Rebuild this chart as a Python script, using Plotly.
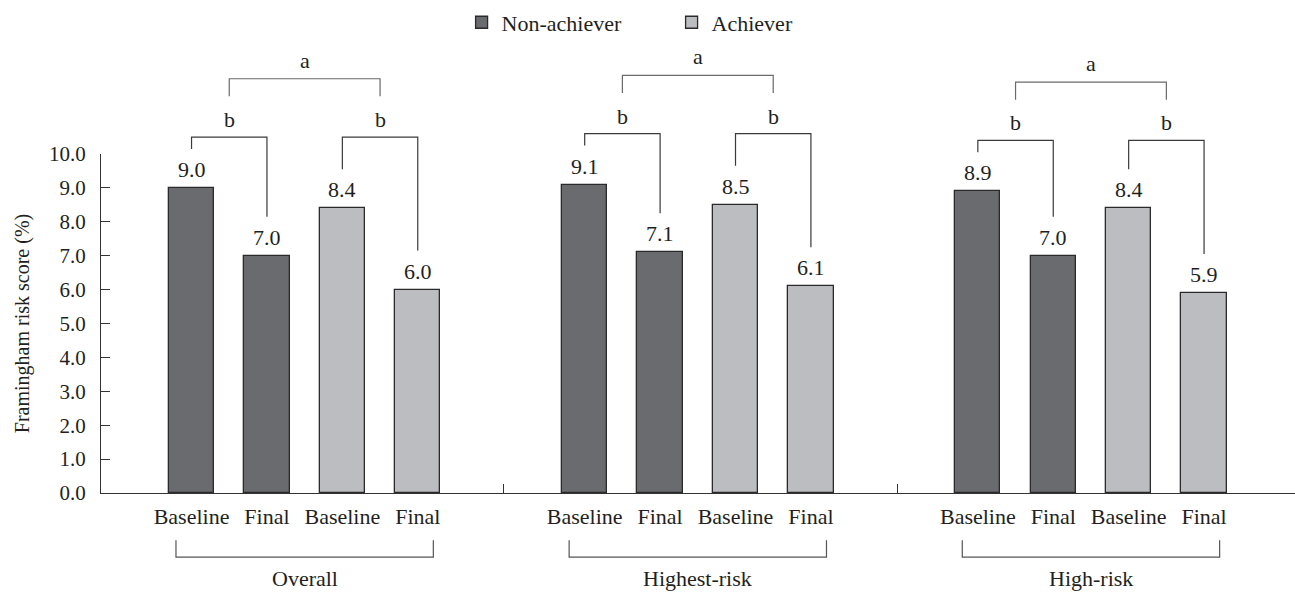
import plotly.graph_objects as go

# Framingham risk score (%) by group, time point and goal achievement
groups = ["Overall", "Highest-risk", "High-risk"]
timepoints = ["Baseline", "Final"]
non_achiever_baseline = [9.0, 9.1, 8.9]
non_achiever_final = [7.0, 7.1, 7.0]
achiever_baseline = [8.4, 8.5, 8.4]
achiever_final = [6.0, 6.1, 5.9]
series_names = ["Non-achiever", "Achiever"]
within_letter = "b"   # baseline vs final within each achievement group
between_letter = "a"  # change in non-achievers vs change in achievers
y_ticks = [0, 1, 2, 3, 4, 5, 6, 7, 8, 9, 10]

FONT = "Liberation Serif"
INK = "#231f20"
DARK = "#6a6b6f"
LIGHT = "#bcbdc1"
Y_MAX = 10.0

# bar layout inside each group (x unit = one group)
STEP = 0.1918
BAR_W = 0.1152
offsets = [-1.5 * STEP, -0.5 * STEP, 0.5 * STEP, 1.5 * STEP]


def py(v):
    """data value -> paper fraction on the y axis (range 0..Y_MAX)"""
    return v / Y_MAX


fig = go.Figure()

na_x, na_y, a_x, a_y = [], [], [], []
for g in range(len(groups)):
    na_x += [g + offsets[0], g + offsets[1]]
    na_y += [non_achiever_baseline[g], non_achiever_final[g]]
    a_x += [g + offsets[2], g + offsets[3]]
    a_y += [achiever_baseline[g], achiever_final[g]]

fig.add_trace(go.Bar(name=series_names[0], x=na_x, y=na_y, width=BAR_W,
                     marker=dict(color=DARK, line=dict(color="#2a2a2a", width=1.3))))
fig.add_trace(go.Bar(name=series_names[1], x=a_x, y=a_y, width=BAR_W,
                     marker=dict(color=LIGHT, line=dict(color="#2a2a2a", width=1.3))))

shapes = []
annotations = []
tick_x, tick_text = [], []

for g in range(len(groups)):
    vals = [non_achiever_baseline[g], non_achiever_final[g],
            achiever_baseline[g], achiever_final[g]]
    xs = [g + o for o in offsets]
    tick_x += xs
    tick_text += timepoints * 2

    # value labels above bars
    for x, v in zip(xs, vals):
        annotations.append(dict(x=x, y=py(v), xref="x", yref="paper", text=f"{v:.1f}",
                                showarrow=False, yanchor="bottom", yshift=4,
                                font=dict(family=FONT, size=22, color=INK)))

    # within-group brackets (baseline vs final)
    b_level = max(vals) + 1.5
    mids = []
    for i, j in [(0, 1), (2, 3)]:
        path = (f"M {xs[i]},{py(vals[i] + 1.15)} L {xs[i]},{py(b_level)} "
                f"L {xs[j]},{py(b_level)} L {xs[j]},{py(vals[j] + 1.15)}")
        shapes.append(dict(type="path", path=path, xref="x", yref="paper",
                           line=dict(color="#3a3a3a", width=1.2)))
        m = (xs[i] + xs[j]) / 2
        mids.append(m)
        annotations.append(dict(x=m, y=py(b_level), xref="x", yref="paper",
                                text=within_letter, showarrow=False, yanchor="bottom",
                                yshift=3, font=dict(family=FONT, size=22, color=INK)))

    # between-group bracket
    a_low = b_level + 1.2
    a_high = b_level + 1.72
    path = (f"M {mids[0]},{py(a_low)} L {mids[0]},{py(a_high)} "
            f"L {mids[1]},{py(a_high)} L {mids[1]},{py(a_low)}")
    shapes.append(dict(type="path", path=path, xref="x", yref="paper",
                       line=dict(color="#6a6a6a", width=1.2)))
    annotations.append(dict(x=(mids[0] + mids[1]) / 2, y=py(a_high), xref="x", yref="paper",
                            text=between_letter, showarrow=False, yanchor="bottom", yshift=4,
                            font=dict(family=FONT, size=22, color=INK)))

    # group bracket and name below the axis
    half = 0.3273
    path = (f"M {g - half},-0.1397 L {g - half},-0.189 "
            f"L {g + half},-0.189 L {g + half},-0.1397")
    shapes.append(dict(type="path", path=path, xref="x", yref="paper",
                       line=dict(color="#555555", width=1.2)))
    annotations.append(dict(x=g, y=-0.253, xref="x", yref="paper", text=groups[g],
                            showarrow=False, yanchor="middle",
                            font=dict(family=FONT, size=22, color=INK)))

fig.update_layout(
    width=1295, height=592,
    margin=dict(l=101, r=0, t=154, b=99),
    plot_bgcolor="white", paper_bgcolor="white",
    bargap=0,
    shapes=shapes,
    annotations=annotations,
    font=dict(family=FONT, color=INK, size=22),
    legend=dict(orientation="h", x=0.302, xanchor="left", y=1.388, yanchor="middle",
                font=dict(family=FONT, size=22, color=INK), entrywidth=165,
                bgcolor="rgba(0,0,0,0)", traceorder="normal"),
    xaxis=dict(range=[-0.518, 2.519], showgrid=False, zeroline=False,
               showline=True, linecolor="#333333", linewidth=1.3,
               tickmode="array", tickvals=tick_x, ticktext=tick_text, ticks="",
               ticklabelstandoff=3,
               tickfont=dict(family=FONT, size=22, color=INK),
               minor=dict(tickmode="array", tickvals=[0.507, 1.507], ticks="inside",
                          ticklen=9, tickcolor="#333333", tickwidth=1.2)),
    yaxis=dict(range=[0, Y_MAX], showgrid=False, zeroline=False,
               showline=True, linecolor="#333333", linewidth=1.3,
               tickmode="array", tickvals=y_ticks, tickformat=".1f",
               ticks="inside", ticklen=9, tickcolor="#333333", tickwidth=1.2,
               ticklabelstandoff=10,
               tickfont=dict(family=FONT, size=21, color=INK),
               title=dict(text="Framingham risk score (%)", standoff=13,
                          font=dict(family=FONT, size=20, color=INK))),
)

fig.write_html("out.html")
